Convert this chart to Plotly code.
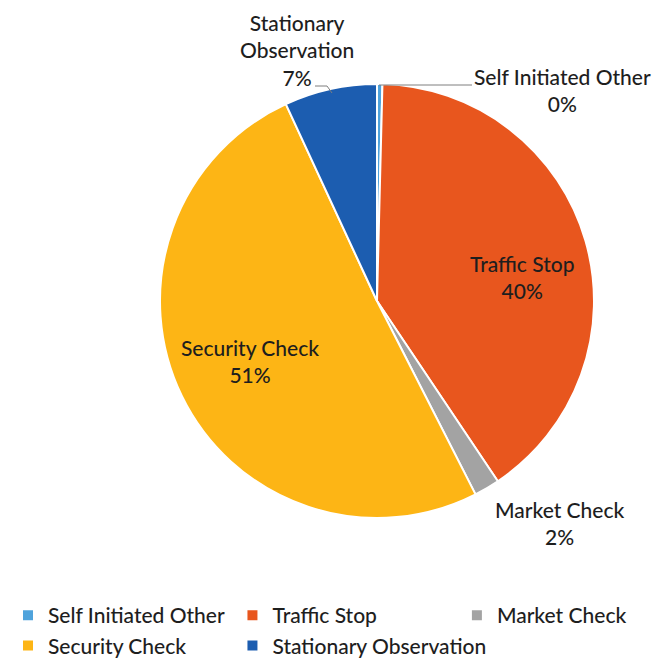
import plotly.graph_objects as go

# Share of activity (percent)
categories = ["Self Initiated Other", "Traffic Stop", "Market Check",
              "Security Check", "Stationary Observation"]
shares = [0.4, 40.2, 1.9, 50.6, 6.9]
colors = ["#4FA3DC", "#E8561E", "#A3A3A3", "#FDB515", "#1C5DB0"]

# label text (line breaks as in the picture) and where each label sits, in px
label_text = ["Self Initiated Other", "Traffic Stop", "Market Check",
              "Security Check", "Stationary<br>Observation"]
label_xy = [(562, 90), (522, 277), (560, 523), (250, 361), (297, 50)]

W, H = 670, 669
OFF = 8  # page body margin shifts the figure by this much
FONT = "Lato, 'Open Sans', sans-serif"
TEXT_COLOR = "#1e1e1e"


def px(x):
    return (x - OFF) / W


def py(y):
    return 1 - (y - OFF) / H


# pie centre and radius on screen
CX, CY, R = 377, 301, 217

fig = go.Figure()
fig.add_trace(go.Pie(
    labels=categories,
    values=shares,
    sort=False,
    direction="clockwise",
    rotation=0,
    marker=dict(colors=colors, line=dict(color="white", width=2)),
    textinfo="none",
    domain=dict(x=[px(CX - R), px(CX + R)], y=[py(CY + R), py(CY - R)]),
    hoverinfo="label+percent",
))

# data labels: name + rounded percentage, computed from the shares
total = sum(shares)
for txt, share, (lx, ly) in zip(label_text, shares, label_xy):
    fig.add_annotation(
        x=px(lx), y=py(ly), xref="paper", yref="paper",
        text=f"{txt}<br>{round(share / total * 100)}%",
        showarrow=False, align="center",
        xanchor="center", yanchor="middle",
        font=dict(family=FONT, size=21, color=TEXT_COLOR, weight=500),
    )

# leader lines for the two small outside labels
leader = dict(color="#7f7f7f", width=1)
fig.add_shape(type="line", xref="paper", yref="paper",
              x0=px(379), y0=py(85), x1=px(472), y1=py(85), line=leader)
fig.add_shape(type="path", xref="paper", yref="paper",
              path=f"M {px(315)},{py(86)} L {px(327)},{py(86)} L {px(332)},{py(93)}",
              line=leader)

fig.update_layout(
    width=W,
    height=H,
    margin=dict(l=0, r=0, t=0, b=0, autoexpand=False),
    paper_bgcolor="white",
    font=dict(family=FONT, size=21, color=TEXT_COLOR),
    showlegend=True,
    legend=dict(
        orientation="h",
        x=0.0,
        y=py(595),
        xanchor="left",
        yanchor="top",
        entrywidth=0.335,
        entrywidthmode="fraction",
        font=dict(family=FONT, size=21, color=TEXT_COLOR, weight=500),
    ),
)

fig.write_html("out.html")
